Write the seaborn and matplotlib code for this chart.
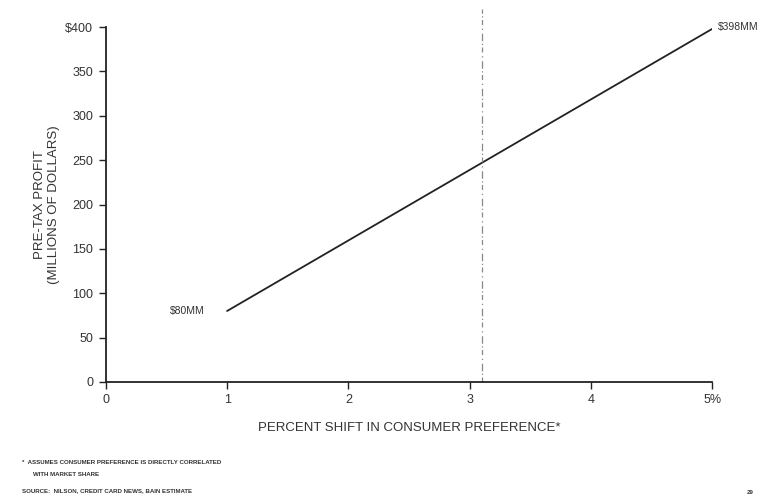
import matplotlib
matplotlib.use("Agg")
import matplotlib.pyplot as plt
import seaborn as sns
import pandas as pd

# Profit impact of a shift in consumer preference
shift_pct = [1, 5]
profit_mm = [80, 398]
point_labels = ["$80MM", "$398MM"]
marker_shift = 3.1

x_ticks = [0, 1, 2, 3, 4, 5]
x_tick_labels = ["0", "1", "2", "3", "4", "5%"]
y_ticks = [0, 50, 100, 150, 200, 250, 300, 350, 400]
y_tick_labels = ["0", "50", "100", "150", "200", "250", "300", "350", "$400"]

sns.set_theme(style="white")
plt.rcParams["font.family"] = ["Liberation Sans", "DejaVu Sans"]

df = pd.DataFrame({"shift": shift_pct, "profit": profit_mm})

fig = plt.figure(figsize=(7.61, 5.03), dpi=100)
ax = fig.add_axes([0.139, 0.2406, 0.797, 0.7056])

sns.lineplot(data=df, x="shift", y="profit", ax=ax, color="#222222", linewidth=1.3)

# dotted reference line
ax.axvline(marker_shift, ymin=0.0, ymax=1.05, color="#888888", linewidth=0.9,
           linestyle=(0, (4, 2, 1, 2, 6, 3, 1, 3)), clip_on=False)

ax.set_xlim(0, 5)
ax.set_ylim(0, 400)
ax.set_xticks(x_ticks)
ax.set_xticklabels(x_tick_labels)
ax.set_yticks(y_ticks)
ax.set_yticklabels(y_tick_labels)

for side in ["top", "right"]:
    ax.spines[side].set_visible(False)
for side in ["left", "bottom"]:
    ax.spines[side].set_color("#222222")
    ax.spines[side].set_linewidth(1.3)

ax.tick_params(axis="both", direction="out", length=5, width=1.0, colors="#222222",
               labelsize=9, labelcolor="#333333", left=True, bottom=True, pad=4)

ax.set_xlabel("PERCENT SHIFT IN CONSUMER PREFERENCE*", fontsize=9.5, color="#333333", labelpad=11)
ax.set_ylabel("PRE-TAX PROFIT\n(MILLIONS OF DOLLARS)", fontsize=9.5, color="#333333", labelpad=4,
              linespacing=1.15)

ax.annotate(point_labels[0], (shift_pct[0], profit_mm[0]), xytext=(-16, 0),
            textcoords="offset points", ha="right", va="center", fontsize=7.5, color="#333333")
ax.annotate(point_labels[1], (shift_pct[1], profit_mm[1]), xytext=(4, 1),
            textcoords="offset points", ha="left", va="center", fontsize=7.5, color="#333333",
            annotation_clip=False)

note_kw = dict(fontsize=4.4, color="#333333", fontweight="bold")
fig.text(22 / 761, 1 - 463 / 503, "*  ASSUMES CONSUMER PREFERENCE IS DIRECTLY CORRELATED",
         va="center", ha="left", **note_kw)
fig.text(33 / 761, 1 - 474 / 503, "WITH MARKET SHARE", va="center", ha="left", **note_kw)
fig.text(22 / 761, 1 - 491 / 503, "SOURCE:  NILSON, CREDIT CARD NEWS, BAIN ESTIMATE",
         va="center", ha="left", **note_kw)
fig.text(750 / 761, 1 - 493 / 503, "29", va="center", ha="center", **note_kw)

fig.savefig("out.png", dpi=100)
